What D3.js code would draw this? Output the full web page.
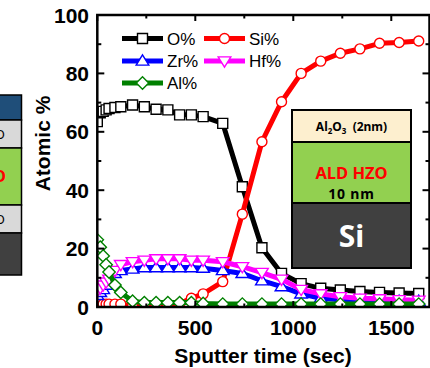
<!DOCTYPE html>
<html>
<head>
<meta charset="utf-8">
<script src="https://cdn.jsdelivr.net/npm/d3@7"></script>
<style>
  html, body { margin: 0; padding: 0; background: #fff; }
  svg { display: block; }
</style>
</head>
<body>
<svg id="chart" width="430" height="368"></svg>
<script>
// Sputter time (sec) for each depth-profile step
const times = [0, 15, 30, 45, 60, 90, 120, 180, 240, 300, 360, 420, 480, 540, 640, 740, 840, 940, 1040, 1140, 1240, 1340, 1440, 1540, 1640];
// Atomic % of each element at those times
const oPct  = [63.5, 66.5, 67, 67.5, 68, 68.3, 68.6, 69.2, 68.6, 67.7, 67.5, 65.8, 65.8, 65.2, 62.9, 41.2, 20.3, 11.5, 8, 6.4, 5.8, 5.3, 5, 4.8, 4.6];
const siPct = [1, 1, 1, 1, 1, 1, 1, 0.3, 0.3, 0.5, 0.8, 1.2, 3, 4.5, 8.7, 31.8, 56.6, 70.3, 80, 84.2, 86.9, 88.4, 90.3, 90.6, 91.1];
const zrPct = [4, 5, 6, 7.5, 9, 11.5, 12.5, 13, 13.5, 13.5, 13.5, 13.5, 13.5, 13.3, 12.5, 11.5, 9, 7, 4.5, 3, 2.5, 2.2, 2, 2, 2];
const hfPct = [5.5, 6.5, 7.5, 8.5, 9.5, 12.5, 14.5, 15.5, 16, 16.5, 16.5, 16.5, 16, 16, 15.5, 13.8, 11.8, 9.5, 6, 4.5, 3.5, 3, 2.8, 2.5, 2.3];
const alPct = [23, 20.5, 17.5, 14.5, 12, 7.5, 5, 2, 1.5, 1.5, 1.5, 1.5, 1.5, 1.2, 1, 1, 1, 1, 1, 1, 1, 1, 1, 1, 1];

const seriesNames = ["O%", "Si%", "Zr%", "Hf%", "Al%"];
const xMajorTicks = [0, 500, 1000, 1500];
const xMinorTicks = [250, 750, 1250];
const yMajorTicks = [0, 20, 40, 60, 80, 100];
const yMinorTicks = [10, 30, 50, 70, 90];

const series = [
  { name: seriesNames[0], values: oPct,  color: "#000000", shape: "square" },
  { name: seriesNames[1], values: siPct, color: "#ff0000", shape: "circle" },
  { name: seriesNames[2], values: zrPct, color: "#0000ff", shape: "up" },
  { name: seriesNames[3], values: hfPct, color: "#ff00ff", shape: "down" },
  { name: seriesNames[4], values: alPct, color: "#008000", shape: "diamond" }
];

const svg = d3.select("#chart");
const L = 97.3, R = 429.5, T = 15, B = 307;
const x = d3.scaleLinear().domain([0, 1695]).range([L, R]);
const y = d3.scaleLinear().domain([0, 100]).range([B, T]);

// layer stack fragment at the far left edge
const leftStack = [
  { y0: 95, y1: 120, fill: "#1f4e79" },
  { y0: 120, y1: 148, fill: "#d9d9d9" },
  { y0: 148, y1: 205, fill: "#92d050" },
  { y0: 205, y1: 233, fill: "#d9d9d9" },
  { y0: 233, y1: 275, fill: "#404040" }
];
const ls = svg.append("g");
ls.selectAll("rect").data(leftStack).join("rect")
  .attr("x", -5).attr("y", d => d.y0).attr("width", 26.5).attr("height", d => d.y1 - d.y0)
  .attr("fill", d => d.fill).attr("stroke", "#000").attr("stroke-width", 1.5);
ls.append("text").attr("x", 5).attr("y", 139).attr("text-anchor", "end")
  .attr("font-family", "Noto Sans, sans-serif").attr("font-size", 13).attr("fill", "#000").text("O");
ls.append("text").attr("x", 6).attr("y", 182).attr("text-anchor", "end")
  .attr("font-family", "Noto Sans, sans-serif").attr("font-weight", "bold").attr("font-size", 16).attr("fill", "#ff0000").text("O");
ls.append("text").attr("x", 5).attr("y", 224).attr("text-anchor", "end")
  .attr("font-family", "Noto Sans, sans-serif").attr("font-size", 13).attr("fill", "#000").text("O");

// plot clip
svg.append("defs").append("clipPath").attr("id", "plotClip")
  .append("rect").attr("x", L).attr("y", T).attr("width", R - L).attr("height", B - T);

const plot = svg.append("g").attr("clip-path", "url(#plotClip)");

function markerPath(shape, s) {
  if (shape === "square") return d3.symbol(d3.symbolSquare, s * s)();
  if (shape === "circle") return d3.symbol(d3.symbolCircle, Math.PI * (s / 2) * (s / 2))();
  if (shape === "diamond") {
    const h = s * 0.62;
    return `M0,${-h}L${h},0L0,${h}L${-h},0Z`;
  }
  const h = s * 0.55;
  if (shape === "up") return `M0,${-h * 1.1}L${h * 1.15},${h * 0.75}L${-h * 1.15},${h * 0.75}Z`;
  return `M0,${h * 1.1}L${h * 1.15},${-h * 0.75}L${-h * 1.15},${-h * 0.75}Z`;
}

const line = d3.line().x(d => x(d[0])).y(d => y(d[1]));

series.forEach(s => {
  const pts = times.map((t, i) => [t, s.values[i]]);
  const g = plot.append("g");
  g.append("path").attr("d", line(pts)).attr("fill", "none")
    .attr("stroke", s.color).attr("stroke-width", 5).attr("stroke-linejoin", "round");
  g.selectAll("path.m").data(pts).join("path").attr("class", "m")
    .attr("transform", d => `translate(${x(d[0])},${y(d[1])})`)
    .attr("d", markerPath(s.shape, 10))
    .attr("fill", "#fff").attr("stroke", s.color).attr("stroke-width", 1.4);
});

// frame
svg.append("rect").attr("x", L).attr("y", T).attr("width", R - L).attr("height", B - T)
  .attr("fill", "none").attr("stroke", "#000").attr("stroke-width", 2.5);

const ticks = svg.append("g").attr("stroke", "#000").attr("stroke-width", 2);
// x ticks, inward on top and bottom
[[xMajorTicks, 6], [xMinorTicks, 3.5]].forEach(([arr, len]) => {
  ticks.selectAll(null).data(arr).join("line")
    .attr("x1", d => x(d)).attr("x2", d => x(d)).attr("y1", T).attr("y2", T + len);
  ticks.selectAll(null).data(arr).join("line")
    .attr("x1", d => x(d)).attr("x2", d => x(d)).attr("y1", B).attr("y2", B - len);
});
// y ticks, inward on left and right
[[yMajorTicks, 7], [yMinorTicks, 4]].forEach(([arr, len]) => {
  ticks.selectAll(null).data(arr).join("line")
    .attr("y1", d => y(d)).attr("y2", d => y(d)).attr("x1", L).attr("x2", L + len);
  ticks.selectAll(null).data(arr).join("line")
    .attr("y1", d => y(d)).attr("y2", d => y(d)).attr("x1", R).attr("x2", R - len);
});

// tick labels
const tickFont = "Liberation Sans, Arial, sans-serif";
svg.append("g").selectAll("text").data(xMajorTicks).join("text")
  .attr("x", d => x(d)).attr("y", 335).attr("text-anchor", "middle")
  .attr("font-family", tickFont).attr("font-weight", "bold").attr("font-size", 21)
  .text(d => d);
svg.append("g").selectAll("text").data(yMajorTicks).join("text")
  .attr("x", 89).attr("y", d => y(d) + 7.5).attr("text-anchor", "end")
  .attr("font-family", tickFont).attr("font-weight", "bold").attr("font-size", 21)
  .text(d => d);

// axis titles
svg.append("text").attr("x", 263).attr("y", 363).attr("text-anchor", "middle")
  .attr("font-family", tickFont).attr("font-weight", "bold").attr("font-size", 21)
  .text("Sputter time (sec)");
svg.append("text").attr("transform", "translate(50,143.5) rotate(-90)").attr("text-anchor", "middle")
  .attr("font-family", tickFont).attr("font-weight", "bold").attr("font-size", 21)
  .text("Atomic %");

// legend
const legendPos = [
  { sx: 122, ty: 38.5 }, { sx: 204, ty: 38.5 },
  { sx: 122, ty: 61 }, { sx: 204, ty: 61 },
  { sx: 122, ty: 83 }
];
const leg = svg.append("g");
series.forEach((s, i) => {
  const p = legendPos[i];
  const g = leg.append("g");
  g.append("line").attr("x1", p.sx).attr("x2", p.sx + 41).attr("y1", p.ty).attr("y2", p.ty)
    .attr("stroke", s.color).attr("stroke-width", 5);
  g.append("path").attr("transform", `translate(${p.sx + 20.5},${p.ty})`)
    .attr("d", markerPath(s.shape, 10)).attr("fill", "#fff").attr("stroke", s.color).attr("stroke-width", 1.4);
  g.append("text").attr("x", p.sx + 45).attr("y", p.ty + 6).attr("font-family", tickFont)
    .attr("font-size", 17).text(s.name);
});

// layer stack inset
const stackFont = "Noto Sans, sans-serif";
const inset = svg.append("g");
const ix = 292, iw = 119;
inset.append("rect").attr("x", ix).attr("y", 110).attr("width", iw).attr("height", 32)
  .attr("fill", "#fdefcf").attr("stroke", "#000").attr("stroke-width", 2);
inset.append("rect").attr("x", ix).attr("y", 142).attr("width", iw).attr("height", 61)
  .attr("fill", "#92d050").attr("stroke", "#000").attr("stroke-width", 2);
inset.append("rect").attr("x", ix).attr("y", 203).attr("width", iw).attr("height", 65)
  .attr("fill", "#404040").attr("stroke", "#000").attr("stroke-width", 2);
const al = inset.append("text").attr("x", ix + iw / 2).attr("y", 130.5).attr("text-anchor", "middle")
  .attr("font-family", stackFont).attr("font-weight", "bold").attr("font-size", 12).attr("fill", "#000");
al.append("tspan").text("Al");
al.append("tspan").attr("font-size", 8).attr("dy", 3).text("2");
al.append("tspan").attr("dy", -3).text("O");
al.append("tspan").attr("font-size", 8).attr("dy", 3).text("3");
al.append("tspan").attr("dy", -3).text("\u00a0\u00a0(2nm)");
inset.append("text").attr("x", ix + iw / 2).attr("y", 178.5).attr("text-anchor", "middle")
  .attr("font-family", stackFont).attr("font-weight", "bold").attr("font-size", 16.5).attr("fill", "#ff0000")
  .text("ALD HZO");
inset.append("text").attr("x", ix + iw / 2).attr("y", 199).attr("text-anchor", "middle")
  .attr("font-family", stackFont).attr("font-weight", "bold").attr("font-size", 14)
  .attr("letter-spacing", 0.8).attr("fill", "#000")
  .text("10 nm");
inset.append("text").attr("x", ix + iw / 2).attr("y", 247).attr("text-anchor", "middle")
  .attr("font-family", stackFont).attr("font-weight", "bold").attr("font-size", 30).attr("fill", "#fff")
  .text("Si");
</script>
</body>
</html>
